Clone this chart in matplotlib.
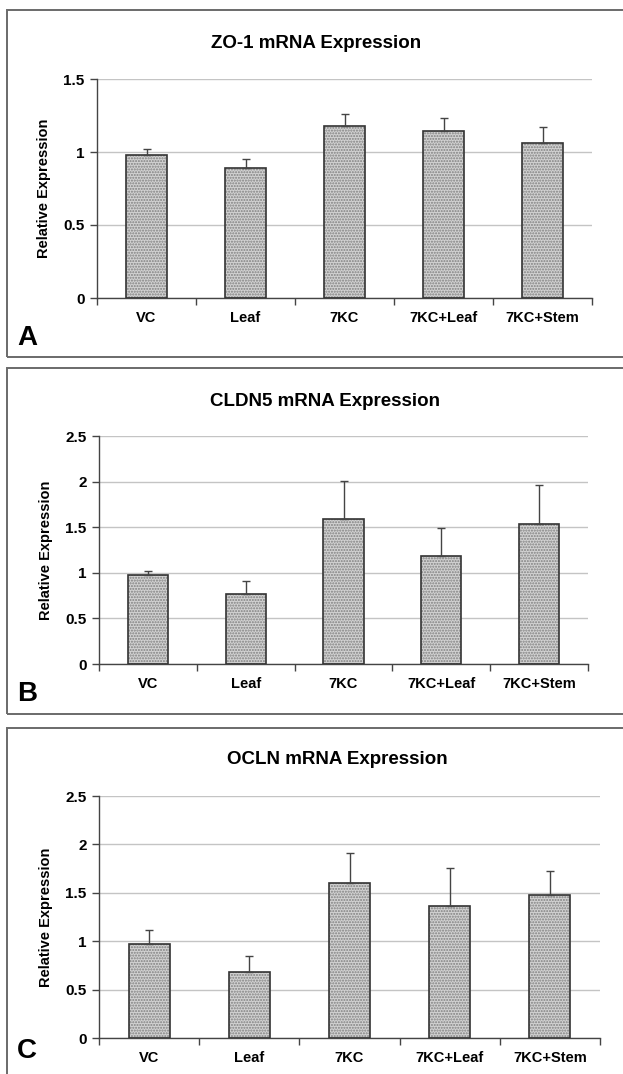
import matplotlib
matplotlib.use("Agg")
import matplotlib.pyplot as plt
from matplotlib.patches import Rectangle

plt.rcParams['font.family'] = ['Liberation Sans', 'DejaVu Sans']
plt.rcParams['font.weight'] = 'bold'
plt.rcParams['hatch.linewidth'] = 1.0

categories = ["VC", "Leaf", "7KC", "7KC+Leaf", "7KC+Stem"]

zo1_mean = [0.98, 0.89, 1.18, 1.145, 1.06]
zo1_err = [0.04, 0.06, 0.08, 0.085, 0.11]

cldn5_mean = [0.98, 0.765, 1.595, 1.18, 1.54]
cldn5_err = [0.045, 0.14, 0.415, 0.31, 0.425]

ocln_mean = [0.97, 0.685, 1.605, 1.365, 1.475]
ocln_err = [0.145, 0.165, 0.31, 0.39, 0.255]

titles = ["ZO-1 mRNA Expression", "CLDN5 mRNA Expression", "OCLN mRNA Expression"]
panel_letters = ["A", "B", "C"]
ymaxes = [1.5, 2.5, 2.5]
yticks = [[0, 0.5, 1, 1.5], [0, 0.5, 1, 1.5, 2, 2.5], [0, 0.5, 1, 1.5, 2, 2.5]]
yticklabels = [["0", "0.5", "1", "1.5"],
               ["0", "0.5", "1", "1.5", "2", "2.5"],
               ["0", "0.5", "1", "1.5", "2", "2.5"]]

W, H = 623, 1074
fig = plt.figure(figsize=(W / 100, H / 100), dpi=100)

def fx(px):
    return px / W

def fy(py):
    return 1 - py / H

# panel frames (pixel coords: top, bottom)
frames = [(10, 357), (368, 714), (728, 1085)]
# axes rectangles: left, right, top, bottom (pixels)
axrects = [(97, 592, 79, 298), (99, 588, 436, 664), (99, 600, 796, 1038)]
title_x = [316, 325, 337]
title_y = [43, 402, 760]
letter_y = [338, 694, 1051]

data = [(zo1_mean, zo1_err), (cldn5_mean, cldn5_err), (ocln_mean, ocln_err)]

for i in range(3):
    t, b = frames[i]
    fig.patches.append(Rectangle((fx(7), fy(b)), fx(640) - fx(7), fy(t) - fy(b),
                                 transform=fig.transFigure, fill=False,
                                 edgecolor='#6a6a6a', linewidth=1.4))
    l, r, at, ab = axrects[i]
    ax = fig.add_axes([fx(l), fy(ab), fx(r) - fx(l), fy(at) - fy(ab)])
    means, errs = data[i]
    x = list(range(len(categories)))
    ax.bar(x, means, width=0.41, color='#d2d2d2', edgecolor='#808080',
           hatch='......', linewidth=0, zorder=2)
    ax.bar(x, means, width=0.41, fill=False, edgecolor='#333333',
           linewidth=1.2, zorder=3)
    ax.errorbar(x, means, yerr=[[0] * len(errs), errs], fmt='none',
                ecolor='#444444', elinewidth=1.0, capsize=3, capthick=1.0,
                zorder=4)
    ax.set_xlim(-0.5, len(categories) - 0.5)
    ax.set_ylim(0, ymaxes[i])
    ax.set_yticks(yticks[i])
    ax.set_yticklabels(yticklabels[i], fontsize=11, fontweight='bold')
    ax.yaxis.grid(True, color='#c4c4c4', linewidth=1.0, zorder=0)
    ax.set_axisbelow(True)
    ax.set_xticks([k - 0.5 for k in range(len(categories) + 1)])
    ax.set_xticklabels([])
    ax.set_xticks(x, minor=True)
    ax.set_xticklabels(categories, minor=True, fontsize=10.5, fontweight='bold')
    ax.tick_params(axis='x', which='minor', length=0, pad=9)
    ax.tick_params(axis='x', which='major', length=5, direction='out',
                   color='#444444', width=1)
    ax.tick_params(axis='y', length=5, direction='out', color='#444444',
                   width=1, pad=4)
    for s in ['top', 'right']:
        ax.spines[s].set_visible(False)
    for s in ['left', 'bottom']:
        ax.spines[s].set_color('#444444')
        ax.spines[s].set_linewidth(1.0)
    ax.set_ylabel("Relative Expression", fontsize=10.5, fontweight='bold',
                  labelpad=9)
    fig.text(fx(title_x[i]), fy(title_y[i]), titles[i], ha='center', va='center',
             fontsize=13.5, fontweight='bold')
    fig.text(fx(17), fy(letter_y[i]), panel_letters[i], ha='left', va='center',
             fontsize=20, fontweight='bold')

fig.savefig("out.png", dpi=100, facecolor='white')
